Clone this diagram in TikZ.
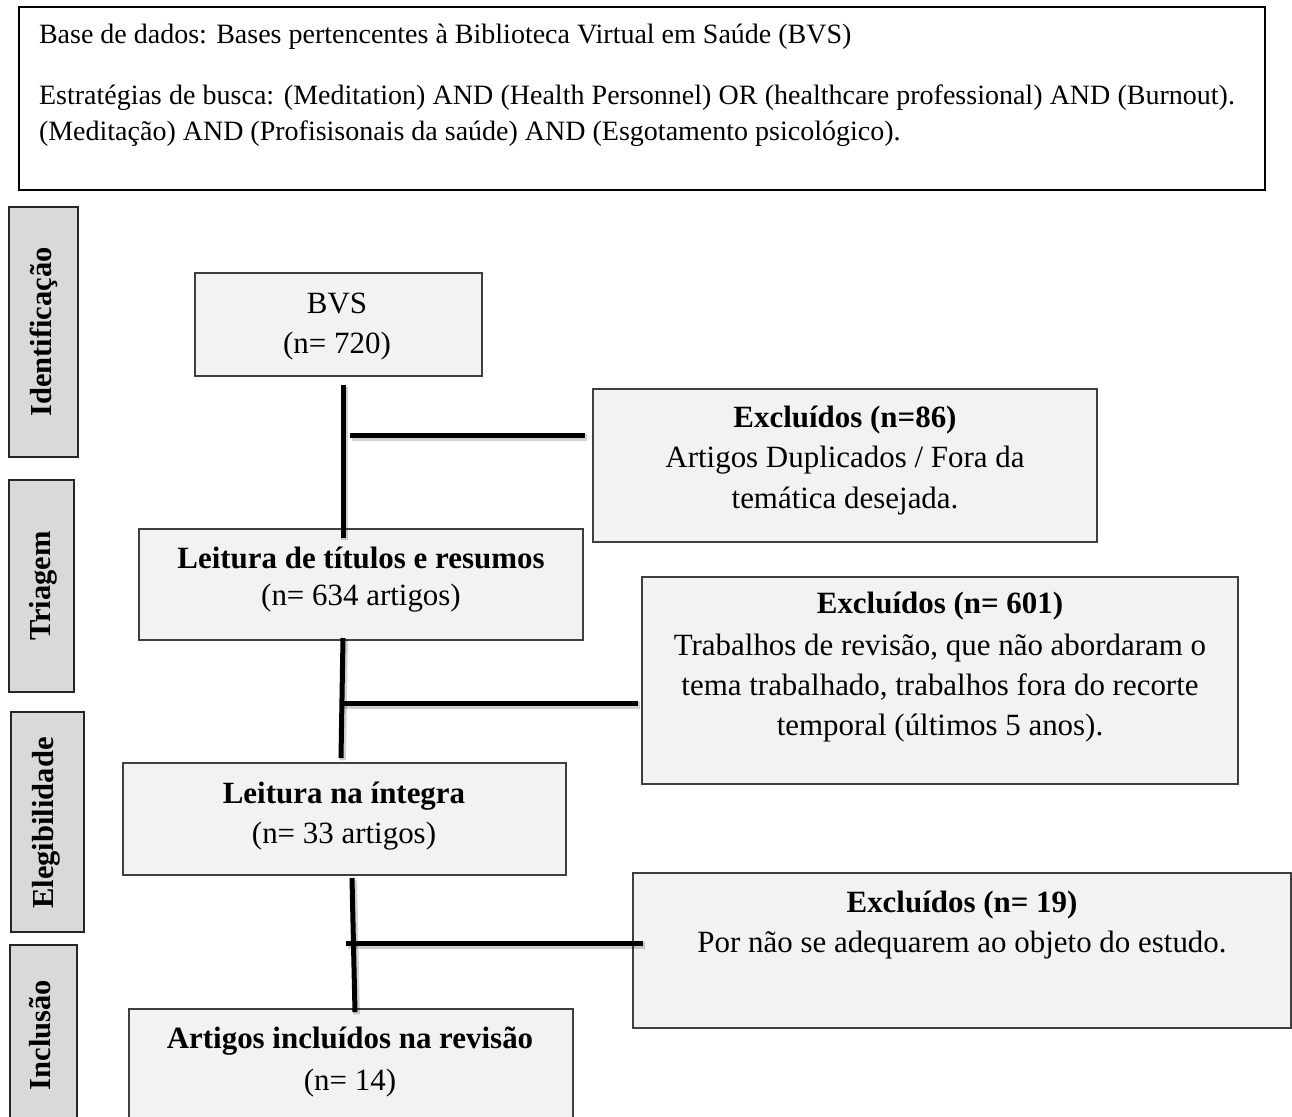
\documentclass[tikz,border=0pt]{standalone}
\usepackage{fontspec}
\setmainfont{Liberation Serif}
\usetikzlibrary{calc}
\definecolor{boxfill}{HTML}{F2F2F2}
\definecolor{sidefill}{HTML}{D9D9D9}
\definecolor{boxline}{HTML}{3F3F3F}
\newcommand\pxbox[6]{\node[#6, anchor=north west, minimum width={(#4-#2)*0.75pt}, minimum height={(#5-#3)*0.75pt}] (#1) at (#2,#3) {};}
\newcommand\connline[1]{\draw[connshadow, transform canvas={shift={(1.2pt,-1.8pt)}}] #1; \draw[conn] #1;}
\tikzset{
  every node/.style={inner sep=0pt, outer sep=0pt},
  topbox/.style={draw=black, fill=white, line width=1.6pt},
  mainbox/.style={draw=boxline, fill=boxfill, line width=1.2pt},
  sidebox/.style={draw=black!85, fill=sidefill, line width=1.4pt},
  toptext/.style={anchor=base west, font=\fontsize{21}{25}\selectfont},
  boxtext/.style={anchor=base, font=\fontsize{23.2}{28}\selectfont},
  boxbold/.style={anchor=base, font=\fontsize{23.2}{28}\selectfont\bfseries},
  sidetext/.style={anchor=base, rotate=90, font=\fontsize{22.9}{27}\selectfont\bfseries},
  conn/.style={line width=3.75pt, black},
  connshadow/.style={line width=5pt, black, opacity=.18}
}
\begin{document}
\begin{tikzpicture}[x=0.75pt, y=-0.75pt]
\useasboundingbox (0,0) rectangle (1292,1117);
\fill[white] (0,0) rectangle (1292,1117);

% top box
\pxbox{top}{19}{7}{1265}{190}{topbox}
\node[toptext] (l1) at (39,43) {Base de dados: Bases pertencentes à Biblioteca Virtual em Saúde (BVS)};
\node[toptext] (l2) at (39,104) {\makebox[897pt][s]{Estratégias de busca: (Meditation) AND (Health Personnel) OR (healthcare professional) AND (Burnout).}};
\node[toptext] (l3) at (39,140) {(Meditação) AND (Profisisonais da saúde) AND (Esgotamento psicológico).};

% side labels
\pxbox{s1}{9}{207}{78}{457}{sidebox}
\pxbox{s2}{9}{480}{74}{692}{sidebox}
\pxbox{s3}{11}{712}{84}{932}{sidebox}
\pxbox{s4}{10}{945}{77}{1130}{sidebox}
\node[sidetext] (s1t) at (51,332) {Identificação};
\node[sidetext] (s2t) at (50,586) {Triagem};
\node[sidetext] (s3t) at (53,823) {Elegibilidade};
\node[sidetext] (s4t) at (50,1035) {Inclusão};

% main boxes
\pxbox{bvs}{195}{273}{482}{376}{mainbox}
\pxbox{excl86}{593}{389}{1097}{542}{mainbox}
\pxbox{titles}{139}{529}{583}{640}{mainbox}
\pxbox{excl601}{642}{577}{1238}{784}{mainbox}
\pxbox{integra}{123}{763}{566}{875}{mainbox}
\pxbox{excl19}{633}{873}{1291}{1028}{mainbox}
\pxbox{incl}{129}{1009}{573}{1130}{mainbox}

% texts in boxes
\node[boxtext] (bvs1) at (337,313) {BVS};
\node[boxtext] (bvs2) at (337,353) {(n= 720)};

\node[boxbold] (e86a) at (845,427) {Excluídos (n=86)};
\node[boxtext] (e86b) at (845,467) {Artigos Duplicados / Fora da};
\node[boxtext] (e86c) at (845,508) {temática desejada.};

\node[boxbold] (tit1) at (361,568) {Leitura de títulos e resumos};
\node[boxtext] (tit2) at (361,605) {(n= 634 artigos)};

\node[boxbold] (e601a) at (940,613) {Excluídos (n= 601)};
\node[boxtext] (e601b) at (940,655) {Trabalhos de revisão, que não abordaram o};
\node[boxtext] (e601c) at (940,695) {tema trabalhado, trabalhos fora do recorte};
\node[boxtext] (e601d) at (940,735) {temporal (últimos 5 anos).};

\node[boxbold] (int1) at (344,803) {Leitura na íntegra};
\node[boxtext] (int2) at (344,843) {(n= 33 artigos)};

\node[boxbold] (e19a) at (962,912) {Excluídos (n= 19)};
\node[boxtext] (e19b) at (962,952) {Por não se adequarem ao objeto do estudo.};

\node[boxbold] (inc1) at (350,1048) {Artigos incluídos na revisão};
\node[boxtext] (inc2) at (350,1090) {(n= 14)};

% connectors
\coordinate (c1a) at ($(bvs.south)+(4.5,9)$);
\coordinate (j1) at (350,435);
\coordinate (c2a) at ($(titles.south)+(-18,-2)$);
\coordinate (c2b) at ($(integra.north)+(-3.5,-5)$);
\coordinate (j2) at (342,703);
\coordinate (c3a) at ($(integra.south)+(7.5,3)$);
\coordinate (c3b) at ($(incl.north)+(4,3)$);
\coordinate (j3) at (346,943);

\connline{(c1a) -- ($(titles.north -| c1a)+(0,9)$)}
\connline{(j1) -- ($(j1 -| excl86.west)+(-8,0)$)}
\connline{(c2a) -- (c2b)}
\connline{(j2) -- ($(j2 -| excl601.west)+(-4,0)$)}
\connline{(c3a) -- (c3b)}
\connline{(j3) -- ($(j3 -| excl19.west)+(10,0)$)}
\end{tikzpicture}
\end{document}
